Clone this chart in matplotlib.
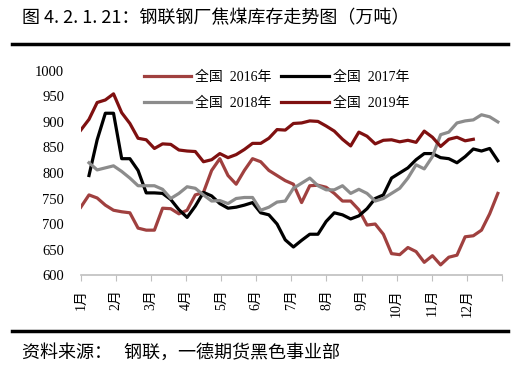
import numpy as np
import matplotlib
matplotlib.use('Agg')
import matplotlib.pyplot as plt
from matplotlib.lines import Line2D

plt.rcParams['font.family'] = ['Noto Sans CJK SC', 'DejaVu Sans']

months = ['1月', '2月', '3月', '4月', '5月', '6月', '7月', '8月', '9月', '10月', '11月', '12月']
labels = ['全国  2016年', '全国  2017年', '全国  2018年', '全国  2019年']

# weekly stocks, 万吨 (NaN = no data that week)
y2016 = [733, 757, 751, 737, 727, 724, 722, 692, 688, 688,
         731, 730, 720, 727, 757, 762, 805, 828, 795, 778,
         805, 828, 822, 805, 795, 785, 778, 742, 775, 776,
         772, 760, 745, 745, 728, 698, 700, 680, 642, 640,
         654, 646, 625, 638, 620, 635, 639, 675, 677, 688,
         720, 760]
y2017 = [np.nan, 795, 865, 917, 917, 828, 828, 805, 761, 761,
         760, 748, 728, 713, 735, 762, 755, 740, 731, 733,
         737, 742, 722, 718, 700, 669, 655, 668, 680, 680,
         705, 722, 718, 710, 716, 730, 750, 757, 790, 800,
         810, 826, 838, 838, 830, 828, 820, 832, 847, 843,
         848, 824]
y2018 = [np.nan, 820, 806, 810, 814, 803, 790, 775, 775, 775,
         768, 750, 760, 773, 770, 757, 745, 746, 740, 750,
         752, 752, 727, 733, 743, 745, 770, 780, 790, 775,
         767, 767, 775, 760, 768, 760, 745, 750, 760, 770,
         790, 816, 808, 832, 875, 880, 898, 902, 904, 914,
         910, 900]
y2019 = [884, 905, 938, 943, 955, 918, 897, 868, 865, 848,
         857, 856, 845, 843, 842, 822, 826, 838, 830, 836,
         846, 858, 858, 868, 885, 884, 897, 898, 902, 901,
         892, 882, 866, 853, 880, 872, 857, 864, 865, 861,
         864, 860, 882, 870, 852, 866, 870, 863, 866, np.nan,
         np.nan, np.nan]

weeks = np.arange(len(y2016))
x_end = 51.5

fig = plt.figure(figsize=(5.18, 3.81), dpi=100)
ax = fig.add_axes([0.156, 0.278, 0.813, 0.536])

ax.plot(weeks, y2016, color='#A0403F', lw=2.3, label=labels[0])
ax.plot(weeks, y2017, color='black', lw=2.3, label=labels[1])
ax.plot(weeks, y2018, color='#8C8C8C', lw=2.3, label=labels[2])
ax.plot(weeks, y2019, color='#7F1010', lw=2.3, label=labels[3])

ax.set_xlim(0, x_end)
ax.set_ylim(600, 1000)
ax.set_yticks(np.arange(600, 1001, 50))
ax.set_xticks([i * x_end / 12 for i in range(12)] + [x_end])
ax.set_xticklabels(months + [''], rotation=90, family=['Liberation Serif', 'Noto Sans CJK SC'], fontsize=10)
for t in ax.get_yticklabels():
    t.set_family('Liberation Serif')
    t.set_fontsize(10.5)
ax.tick_params(axis='y', length=0, pad=12)
ax.tick_params(axis='x', length=4, color='#BFBFBF', pad=6)
for s in ['top', 'right', 'left']:
    ax.spines[s].set_visible(False)
ax.spines['bottom'].set_color('#BFBFBF')
ax.spines['bottom'].set_linewidth(1.2)

h, l = ax.get_legend_handles_labels()
order = [0, 2, 1, 3]
leg = ax.legend([h[i] for i in order], [l[i] for i in order], ncol=2, loc='upper center',
                bbox_to_anchor=(0.465, 1.06), frameon=False,
                handlelength=3.4, columnspacing=0.7, labelspacing=0.9, handletextpad=0.3,
                prop={'family': ['Liberation Serif', 'Noto Sans CJK SC'], 'size': 10})

fig.text(0.042, 0.953, '图 4. 2. 1. 21：钢联钢厂焦煤库存走势图（万吨）', fontsize=13, va='center')
fig.text(0.042, 0.073, '资料来源：   钢联，一德期货黑色事业部', fontsize=13, va='center')
fig.add_artist(Line2D([0.023, 0.981], [0.884, 0.884], color='black', lw=2.5, transform=fig.transFigure))
fig.add_artist(Line2D([0.023, 0.981], [0.131, 0.131], color='black', lw=2.5, transform=fig.transFigure))

fig.savefig('out.png', dpi=100)
